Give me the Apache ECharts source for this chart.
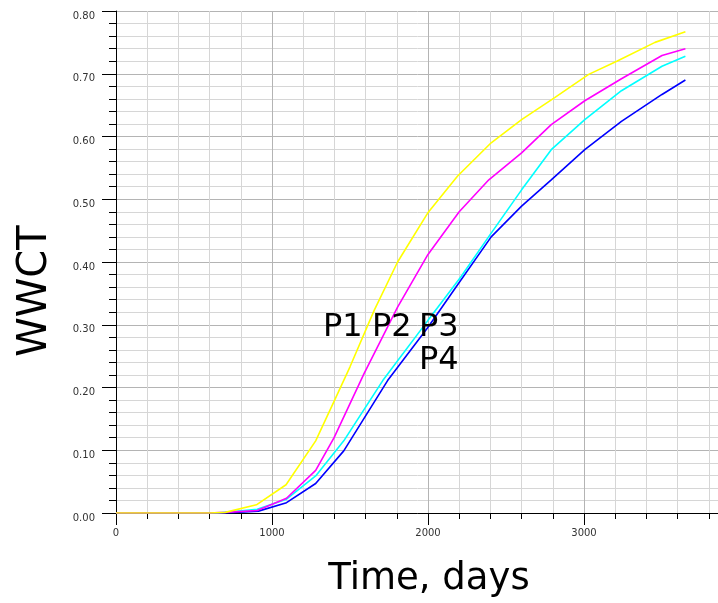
<!DOCTYPE html>
<html>
<head>
<meta charset="utf-8">
<script src="https://cdn.jsdelivr.net/npm/echarts@6/dist/echarts.min.js"></script>
<style>
  html, body { margin: 0; padding: 0; background: #fff; }
  #chart { width: 718px; height: 603px; }
</style>
</head>
<body>
<div id="chart"></div>
<script>
// [time (days), WWCT]
var p1 = [[0, 0], [600, 0], [700, 0.001], [900, 0.013], [1090, 0.045], [1280, 0.115], [1400, 0.179],
  [1500, 0.233], [1655, 0.323], [1805, 0.400], [1998, 0.478], [2190, 0.537], [2405, 0.590],
  [2600, 0.627], [2812, 0.662], [3030, 0.699], [3210, 0.720], [3455, 0.750], [3650, 0.767]];
var p2 = [[0, 0], [600, 0], [700, 0.001], [905, 0.004], [1093, 0.0235], [1280, 0.068], [1398, 0.120],
  [1590, 0.222], [1805, 0.328], [2000, 0.412], [2200, 0.480], [2390, 0.531], [2600, 0.574],
  [2790, 0.619], [3005, 0.657], [3240, 0.692], [3500, 0.729], [3650, 0.740]];
var p3 = [[0, 0], [650, 0], [905, 0.006], [1093, 0.022], [1280, 0.059], [1460, 0.115], [1710, 0.211],
  [2000, 0.307], [2210, 0.376], [2405, 0.446], [2600, 0.515], [2790, 0.579], [3005, 0.627],
  [3240, 0.673], [3500, 0.712], [3650, 0.728]];
var p4 = [[0, 0], [700, 0], [913, 0.003], [1093, 0.0165], [1280, 0.047], [1460, 0.099], [1741, 0.211],
  [2000, 0.296], [2210, 0.371], [2405, 0.440], [2600, 0.489], [2790, 0.531], [3005, 0.579],
  [3240, 0.624], [3500, 0.667], [3650, 0.690]];

var seriesNames = ['P1', 'P2', 'P3', 'P4'];
var seriesColors = ['#ffff00', '#ff00ff', '#00ffff', '#0000ff'];
var seriesData = [p1, p2, p3, p4];

var myChart = echarts.init(document.getElementById('chart'));

var font = 'DejaVu Sans, Verdana, sans-serif';

var option = {
  animation: false,
  backgroundColor: '#fff',
  grid: {
    left: 116,
    top: 11,
    width: 624,
    bottom: 90,
    containLabel: false,
    outerBoundsMode: 'none'
  },
  xAxis: {
    type: 'value',
    min: 0,
    max: 4000,
    interval: 1000,
    axisLine: { show: true, onZero: false, lineStyle: { color: '#000', width: 1 } },
    axisTick: { show: true, length: 12, lineStyle: { color: '#000' } },
    minorTick: { show: true, splitNumber: 5, length: 6, lineStyle: { color: '#000' } },
    splitLine: { show: true, lineStyle: { color: '#b4b4b4', width: 1 } },
    minorSplitLine: { show: true, lineStyle: { color: '#d6d6d6', width: 1 } },
    axisLabel: {
      show: true,
      margin: 15,
      color: '#333',
      fontSize: 10,
      fontFamily: font,
      showMaxLabel: true,
      hideOverlap: false,
      alignMaxLabel: 'center',
      formatter: function (v) { return String(v); }
    }
  },
  yAxis: {
    type: 'value',
    min: 0,
    max: 0.8,
    interval: 0.1,
    axisLine: { show: true, onZero: false, lineStyle: { color: '#000', width: 1 } },
    axisTick: { show: true, length: 14, lineStyle: { color: '#000' } },
    minorTick: { show: true, splitNumber: 5, length: 7, lineStyle: { color: '#000' } },
    splitLine: { show: true, lineStyle: { color: '#b4b4b4', width: 1 } },
    minorSplitLine: { show: true, lineStyle: { color: '#d6d6d6', width: 1 } },
    axisLabel: {
      show: true,
      margin: 21,
      color: '#333',
      fontSize: 10,
      fontFamily: font,
      verticalAlign: 'top',
      formatter: function (v) { return v.toFixed(2); }
    }
  },
  series: seriesData.map(function (d, i) {
    return {
      name: seriesNames[i],
      type: 'line',
      data: d,
      showSymbol: false,
      symbol: 'none',
      lineStyle: { color: seriesColors[i], width: 1.6 },
      z: 10 - i
    };
  }),
  graphic: [
    { type: 'text', left: 323, top: 312, style: { text: 'P1', font: '32px ' + font, fill: '#000' }, z: 100 },
    { type: 'text', left: 372, top: 312, style: { text: 'P2', font: '32px ' + font, fill: '#000' }, z: 100 },
    { type: 'text', left: 419, top: 312, style: { text: 'P3', font: '32px ' + font, fill: '#000' }, z: 100 },
    { type: 'text', left: 419, top: 345, style: { text: 'P4', font: '32px ' + font, fill: '#000' }, z: 100 },
    {
      type: 'text',
      x: 36, y: 291,
      rotation: Math.PI / 2,
      style: { text: 'WWCT', font: '40px ' + font, fill: '#000', align: 'center', verticalAlign: 'middle' }
    },
    {
      type: 'text',
      x: 429, y: 579,
      style: { text: 'Time, days', font: '37px ' + font, fill: '#000', align: 'center', verticalAlign: 'middle' }
    }
  ]
};

myChart.setOption(option);
window.addEventListener('resize', function () {
  myChart.resize();
});
</script>
</body>
</html>
